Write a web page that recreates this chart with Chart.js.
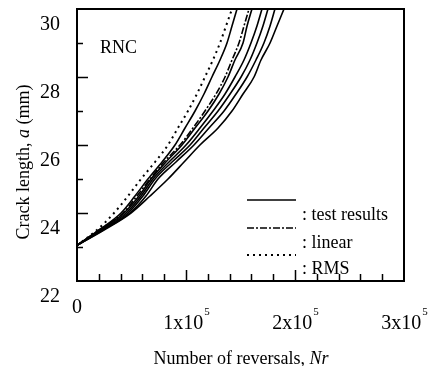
<!DOCTYPE html>
<html>
<head>
<meta charset="utf-8">
<script src="https://cdn.jsdelivr.net/npm/chart.js@4.4.0/dist/chart.umd.min.js"></script>
<style>
  html, body { margin: 0; padding: 0; background: #fff; }
  #wrap { width: 429px; height: 366px; }
</style>
</head>
<body>
<div id="wrap"><canvas id="chart" width="429" height="366"></canvas></div>
<script>
'use strict';

// ─── DATA ────────────────────────────────────────────────────────────────────

const crackLengths = [23.05, 23.5, 24, 24.5, 25, 25.5, 26, 26.5, 27, 27.5, 28, 28.5, 29, 29.5, 30];

// number of reversals Nr for each test specimen
const test1 = [0, 20200, 40400, 53200, 65100, 78000, 89900, 99100, 108300, 116500, 123800, 131200, 137600, 142200, 146800];
const test2 = [0, 21100, 43100, 56900, 67900, 81600, 96300, 108300, 120200, 130300, 138500, 144900, 152300, 156000, 160500];
const test3 = [0, 22000, 45000, 58700, 69700, 84400, 100000, 112800, 124800, 135800, 144900, 153200, 159600, 165100, 169700];
const test4 = [0, 22900, 46800, 60500, 71600, 87200, 103700, 116500, 129400, 140400, 150500, 158700, 165100, 170600, 175200];
const test5 = [0, 23900, 48600, 63300, 74300, 90800, 107300, 121100, 134900, 145900, 156000, 164200, 171500, 177100, 181600];
const test6 = [0, 24800, 49500, 67000, 83500, 98200, 112800, 129400, 142200, 152300, 162400, 168800, 177100, 183500, 189900];

// predictions
const linearPred = [0, 20200, 42200, 55000, 67000, 79800, 94500, 106400, 117400, 127500, 135800, 142200, 148600, 153200, 157800];
const rmsPred    = [0, 18300, 34000, 46800, 58700, 71600, 83500, 92600, 101800, 110000, 117400, 124700, 131200, 136700, 142200];

// axes
const xTickValues = [0, 100000, 200000, 300000];
const xTickLabels = ['0', '1x10', '2x10', '3x10'];
const xTickExp    = ['', '5', '5', '5'];
const yLabelValues = [22, 24, 26, 28, 30];

const SERIF = '"Liberation Serif", "Times New Roman", serif';

// ─── HELPERS ─────────────────────────────────────────────────────────────────

function toPoints(nr) {
  return nr.map((n, i) => ({ x: n, y: crackLengths[i] }));
}

function curve(nr, extra) {
  return Object.assign({
    data: toPoints(nr),
    borderColor: '#000',
    borderWidth: 1.6,
    pointRadius: 0,
    fill: false,
    cubicInterpolationMode: 'monotone',
  }, extra || {});
}

// draws "normal + italic + normal" pieces centred on (cx, cy)
function mixedText(ctx, parts, cx, cy, size) {
  const fonts = parts.map(p => `${p.it ? 'italic ' : ''}${size}px ${SERIF}`);
  const widths = parts.map((p, i) => { ctx.font = fonts[i]; return ctx.measureText(p.t).width; });
  const total = widths.reduce((s, w) => s + w, 0);
  let x = cx - total / 2;
  ctx.textAlign = 'left';
  ctx.textBaseline = 'middle';
  parts.forEach((p, i) => {
    ctx.font = fonts[i];
    ctx.fillText(p.t, x, cy);
    x += widths[i];
  });
}

// ─── FRAME, TICKS, LABELS, LEGEND ────────────────────────────────────────────

const decorPlugin = {
  id: 'decor',
  afterDraw(chart) {
    const { ctx, chartArea: a, scales: { x, y } } = chart;
    ctx.save();
    ctx.fillStyle = '#000';
    ctx.strokeStyle = '#000';

    // box
    ctx.lineWidth = 2;
    ctx.strokeRect(a.left, a.top, a.right - a.left, a.bottom - a.top);

    // inward ticks
    ctx.lineWidth = 1.5;
    ctx.beginPath();
    for (let v = 20000; v < 300000; v += 20000) {
      const px = Math.round(x.getPixelForValue(v)) + 0.5;
      const len = v % 100000 === 0 ? 11 : 7;
      ctx.moveTo(px, a.bottom);
      ctx.lineTo(px, a.bottom - len);
    }
    for (let v = 23; v < 30; v++) {
      const py = Math.round(y.getPixelForValue(v)) + 0.5;
      const len = v % 2 === 0 ? 11 : 6;
      ctx.moveTo(a.left, py);
      ctx.lineTo(a.left + len, py);
    }
    ctx.stroke();

    // x tick labels with superscript exponent
    xTickValues.forEach((v, i) => {
      const px = x.getPixelForValue(v);
      ctx.textBaseline = 'middle';
      ctx.textAlign = 'left';
      ctx.font = `20px ${SERIF}`;
      const wMain = ctx.measureText(xTickLabels[i]).width;
      ctx.font = `11px ${SERIF}`;
      const wExp = ctx.measureText(xTickExp[i]).width;
      const x0 = px - (wMain + wExp) / 2;
      if (!xTickExp[i]) {
        ctx.font = `20px ${SERIF}`;
        ctx.fillText(xTickLabels[i], x0, a.bottom + 27);
        return;
      }
      ctx.font = `20px ${SERIF}`;
      ctx.fillText(xTickLabels[i], x0, a.bottom + 43);
      ctx.font = `11px ${SERIF}`;
      ctx.fillText(xTickExp[i], x0 + wMain + 1, a.bottom + 31);
    });

    // axis titles
    mixedText(ctx, [{ t: 'Number of reversals, ' }, { t: 'Nr', it: true }], 241, 359, 18);
    ctx.save();
    ctx.translate(24, 162);
    ctx.rotate(-Math.PI / 2);
    mixedText(ctx, [{ t: 'Crack length, ' }, { t: 'a', it: true }, { t: ' (mm)' }], 0, 0, 18);
    ctx.restore();

    // panel label
    ctx.font = `18px ${SERIF}`;
    ctx.textAlign = 'left';
    ctx.textBaseline = 'middle';
    ctx.fillText('RNC', a.left + 23, a.top + 39);

    // legend
    const lx0 = a.left + 170, lx1 = a.left + 219;
    const rows = [
      { dy: 191, dash: [], w: 1.6, text: ': test results', ty: 206 },
      { dy: 219, dash: [7, 2, 2, 2], w: 1.6, text: ': linear', ty: 234 },
      { dy: 246, dash: [2, 4], w: 2, text: ': RMS', ty: 260 },
    ];
    rows.forEach(r => {
      ctx.beginPath();
      ctx.setLineDash(r.dash);
      ctx.lineWidth = r.w;
      ctx.moveTo(lx0, a.top + r.dy);
      ctx.lineTo(lx1, a.top + r.dy);
      ctx.stroke();
      ctx.setLineDash([]);
      ctx.font = `18px ${SERIF}`;
      ctx.fillText(r.text, a.left + 225, a.top + r.ty);
    });

    ctx.restore();
  },
};

// ─── CHART ───────────────────────────────────────────────────────────────────

new Chart(document.getElementById('chart'), {
  type: 'line',
  data: {
    datasets: [
      curve(test1),
      curve(test2),
      curve(test3),
      curve(test4),
      curve(test5),
      curve(test6),
      curve(linearPred, { borderDash: [7, 2, 2, 2] }),
      curve(rmsPred, { borderDash: [2, 4], borderWidth: 2 }),
    ],
  },
  options: {
    responsive: false,
    animation: false,
    events: [],
    layout: { padding: { left: 0, top: 9, right: 25, bottom: 0 } },
    plugins: { legend: { display: false }, tooltip: { enabled: false } },
    scales: {
      x: {
        type: 'linear',
        min: 0,
        max: 300000,
        grid: { display: false },
        border: { display: false },
        ticks: { display: false },
        afterFit: s => { s.height = 85; s.paddingLeft = 0; s.paddingRight = 0; },
      },
      y: {
        type: 'linear',
        min: 22,
        max: 30,
        grid: { display: false },
        border: { display: false },
        ticks: {
          stepSize: 1,
          color: '#000',
          font: { family: SERIF, size: 20 },
          padding: 9,
          labelOffset: 16,
          callback: v => (yLabelValues.includes(v) ? String(v) : ''),
        },
        afterFit: s => { s.width = 77; s.paddingTop = 0; s.paddingBottom = 0; },
      },
    },
  },
  plugins: [decorPlugin],
});
</script>
</body>
</html>
